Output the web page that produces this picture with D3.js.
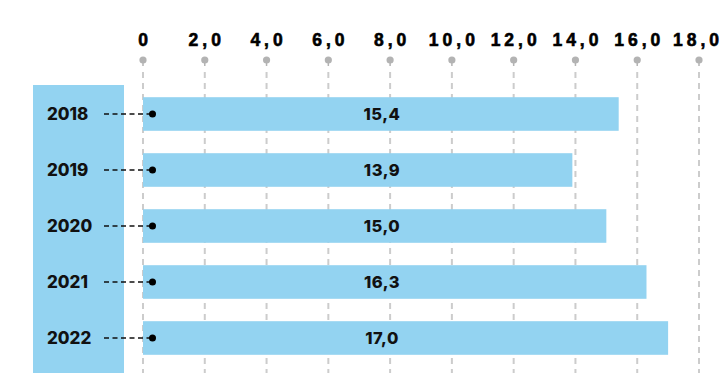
<!DOCTYPE html>
<html>
<head>
<meta charset="utf-8">
<script src="https://cdn.jsdelivr.net/npm/d3@7"></script>
<style>
  html, body { margin: 0; padding: 0; background: #fff; }
  svg { display: block; }
</style>
</head>
<body>
<svg id="chart" width="725" height="373"></svg>
<script>
// Yearly values
const years = ["2018", "2019", "2020", "2021", "2022"];
const values = [15.4, 13.9, 15.0, 16.3, 17.0];
const valueLabels = ["15,4", "13,9", "15,0", "16,3", "17,0"];
// Axis ticks
const tickValues = [0, 2, 4, 6, 8, 10, 12, 14, 16, 18];
const tickLabels = ["0", "2,0", "4,0", "6,0", "8,0", "10,0", "12,0", "14,0", "16,0", "18,0"];

const W = 725, H = 373;
const barColor = "#93d3f1";
const svg = d3.select("#chart");

const x = d3.scaleLinear().domain([0, 18]).range([143, 699]);
const y = d3.scaleBand().domain(years).range([86, 86 + 56 * 5]).paddingInner(0.4).paddingOuter(0.2);

// Left label panel
svg.append("rect")
  .attr("x", 33).attr("y", 85)
  .attr("width", 91).attr("height", H - 85)
  .attr("fill", barColor);

// Gridlines with pin markers
const tickSpacing = 4;
const grid = svg.append("g");
tickValues.forEach((v, i) => {
  const gx = x(v);
  grid.append("line")
    .attr("x1", gx).attr("x2", gx)
    .attr("y1", 72).attr("y2", H)
    .attr("stroke", "#cccccc")
    .attr("stroke-width", 2)
    .attr("stroke-dasharray", "6,5");
  grid.append("line")
    .attr("x1", gx).attr("x2", gx)
    .attr("y1", 60).attr("y2", 66)
    .attr("stroke", "#b3b3b3")
    .attr("stroke-width", 1.5);
  grid.append("circle")
    .attr("cx", gx).attr("cy", 60).attr("r", 3.6)
    .attr("fill", "#b3b3b3");
  svg.append("text")
    .attr("x", i === tickValues.length - 1 ? gx - 1 : gx + tickSpacing / 2).attr("y", 46)
    .attr("text-anchor", "middle")
    .attr("font-family", "Liberation Sans, Arial, sans-serif")
    .attr("font-weight", "bold")
    .attr("font-size", 17.5)
    .attr("letter-spacing", tickSpacing + "px")
    .attr("fill", "#000")
    .attr("stroke", "#000")
    .attr("stroke-width", 0.6)
    .text(tickLabels[i]);
});

// Bars
const rows = svg.append("g").selectAll("g").data(years).join("g");
rows.append("rect")
  .attr("x", x(0))
  .attr("y", d => y(d))
  .attr("width", (d, i) => x(values[i]) - x(0))
  .attr("height", y.bandwidth())
  .attr("fill", barColor);

// Leader lines and dots
rows.append("line")
  .attr("x1", 104).attr("x2", 150)
  .attr("y1", d => y(d) + y.bandwidth() / 2)
  .attr("y2", d => y(d) + y.bandwidth() / 2)
  .attr("stroke", "#111")
  .attr("stroke-width", 1.5)
  .attr("stroke-dasharray", "5,3.5");
rows.append("circle")
  .attr("cx", 152.5)
  .attr("cy", d => y(d) + y.bandwidth() / 2)
  .attr("r", 3.5)
  .attr("fill", "#000");

// Year labels
rows.append("text")
  .attr("x", 47)
  .attr("y", d => y(d) + y.bandwidth() / 2)
  .attr("dy", "0.36em")
  .attr("font-family", "Inter, sans-serif")
  .attr("font-weight", 800)
  .attr("font-size", 17)
  .attr("fill", "#111")
  .text(d => d);

// Value labels
rows.append("text")
  .attr("x", 382)
  .attr("y", d => y(d) + y.bandwidth() / 2)
  .attr("dy", "0.36em")
  .attr("text-anchor", "middle")
  .attr("font-family", "Inter, sans-serif")
  .attr("font-weight", 800)
  .attr("font-size", 16.5)
  .attr("letter-spacing", "0.5px")
  .attr("fill", "#111")
  .text((d, i) => valueLabels[i]);
</script>
</body>
</html>
